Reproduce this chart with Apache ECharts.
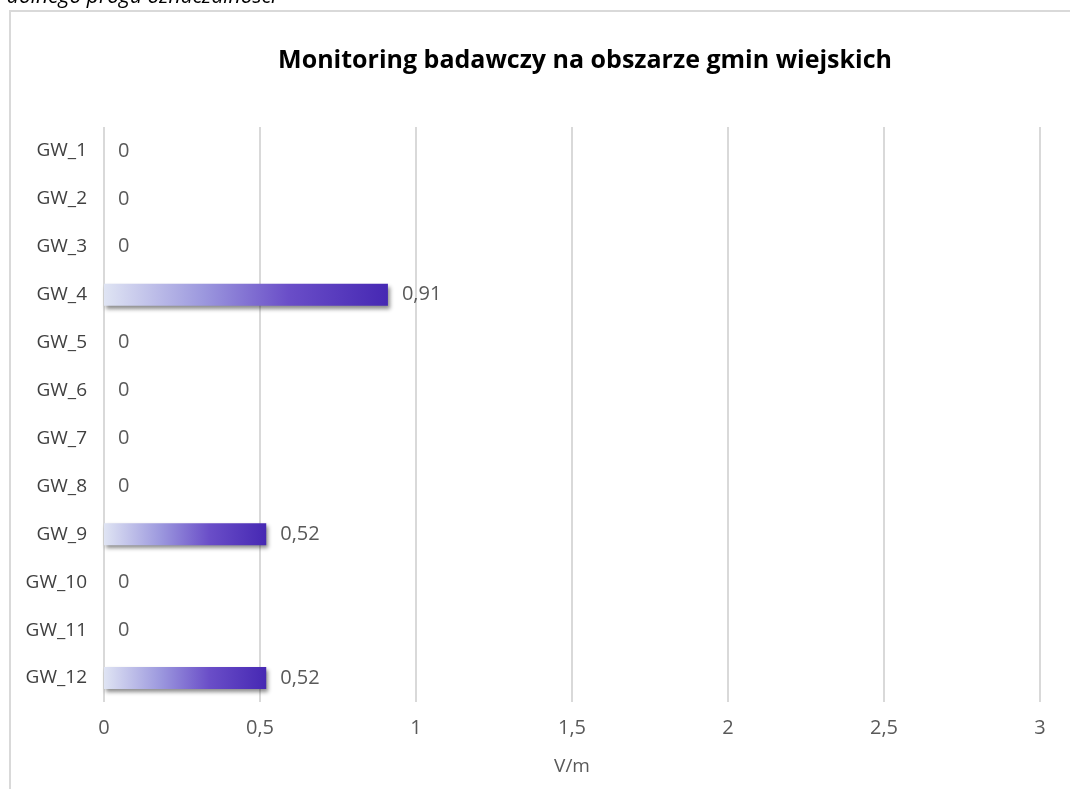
<!DOCTYPE html>
<html>
<head>
<meta charset="utf-8">
<style>
  html, body { margin: 0; padding: 0; background: #fff; }
  #chart { width: 1070px; height: 789px; }
</style>
<script src="https://cdn.jsdelivr.net/npm/echarts@6/dist/echarts.min.js"></script>
</head>
<body>
<div id="chart"></div>
<script>
// Station names and measured field strength (V/m)
const categories = ['GW_1','GW_2','GW_3','GW_4','GW_5','GW_6','GW_7','GW_8','GW_9','GW_10','GW_11','GW_12'];
const values = [0, 0, 0, 0.91, 0, 0, 0, 0, 0.52, 0, 0, 0.52];
const xTicks = { min: 0, max: 3, interval: 0.5 };

const FONT = '"Open Sans", "Noto Sans", sans-serif';
const fmt = v => String(v).replace('.', ',');

const chart = echarts.init(document.getElementById('chart'));
chart.setOption({
  animation: false,
  backgroundColor: '#fff',
  title: {
    text: 'Monitoring badawczy na obszarze gmin wiejskich',
    left: 580, top: 43, textAlign: 'center',
    textStyle: { fontFamily: FONT, fontSize: 25, fontWeight: 'bold', color: '#000' }
  },
  graphic: [
    {
      type: 'rect', silent: true, z: -1,
      shape: { x: 10, y: 11, width: 1100, height: 820 },
      style: { fill: 'none', stroke: '#d9d9d9', lineWidth: 2 }
    },
    {
      type: 'text', silent: true,
      style: {
        x: -4, y: -13,
        text: 'i dolnego progu oznaczalności',
        fontFamily: FONT, fontSize: 21, fontStyle: 'italic', fill: '#000'
      }
    }
  ],
  grid: { left: 104, right: 30, top: 127, bottom: 87, containLabel: false },
  xAxis: {
    type: 'value', min: xTicks.min, max: xTicks.max, interval: xTicks.interval,
    name: 'V/m', nameLocation: 'middle', nameGap: 55,
    nameTextStyle: { fontFamily: FONT, fontSize: 19, color: '#595959' },
    axisLine: { show: false }, axisTick: { show: false },
    axisLabel: { formatter: fmt, fontFamily: FONT, fontSize: 20, color: '#595959', margin: 16 },
    splitLine: { show: true, lineStyle: { color: '#d9d9d9', width: 2 } }
  },
  yAxis: {
    type: 'category', data: categories, inverse: true,
    axisLine: { show: false }, axisTick: { show: false },
    axisLabel: { fontFamily: FONT, fontSize: 19, color: '#404040', margin: 17 },
    splitLine: { show: false }
  },
  series: [{
    type: 'bar', data: values, barCategoryGap: '54%',
    itemStyle: {
      color: new echarts.graphic.LinearGradient(0, 0, 1, 0, [
        { offset: 0, color: '#dfe4f3' },
        { offset: 0.35, color: '#9c98de' },
        { offset: 0.65, color: '#6a4ec8' },
        { offset: 1, color: '#4628b3' }
      ]),
      shadowColor: 'rgba(0,0,0,0.45)', shadowBlur: 4, shadowOffsetX: 2, shadowOffsetY: 3
    },
    label: {
      show: true, position: 'right', distance: 14,
      formatter: p => fmt(p.value),
      fontFamily: FONT, fontSize: 20, color: '#595959'
    }
  }]
});
</script>
</body>
</html>
